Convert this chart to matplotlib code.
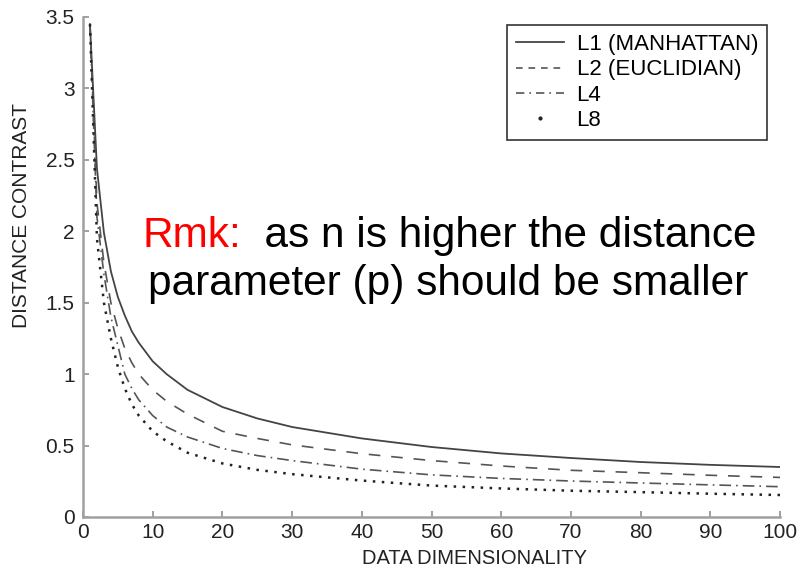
import matplotlib
matplotlib.use("Agg")
import matplotlib.pyplot as plt
from matplotlib.lines import Line2D

plt.rcParams['font.family'] = ['Liberation Sans', 'DejaVu Sans']

# valores
dim = [1, 2, 3, 4, 5, 6, 7, 8, 10, 12, 15, 20, 25, 30, 40, 50, 60, 70, 80, 90, 100]
l1 = [3.45, 2.44, 1.99, 1.72, 1.54, 1.41, 1.30, 1.22, 1.09, 1.00, 0.89, 0.77,
      0.69, 0.63, 0.55, 0.49, 0.445, 0.413, 0.385, 0.365, 0.35]
l2 = [3.45, 2.20, 1.78, 1.50, 1.32, 1.18, 1.08, 1.00, 0.89, 0.81, 0.72, 0.60,
      0.55, 0.505, 0.443, 0.395, 0.357, 0.327, 0.31, 0.292, 0.277]
l4 = [3.45, 2.10, 1.70, 1.40, 1.20, 1.00, 0.90, 0.82, 0.71, 0.63, 0.56, 0.48,
      0.43, 0.395, 0.335, 0.295, 0.27, 0.252, 0.238, 0.225, 0.212]
l8 = [3.45, 1.95, 1.50, 1.25, 1.05, 0.90, 0.79, 0.71, 0.60, 0.53, 0.45, 0.375,
      0.33, 0.30, 0.255, 0.22, 0.20, 0.184, 0.174, 0.163, 0.154]

labels = ["L1 (MANHATTAN)", "L2 (EUCLIDIAN)", "L4", "L8"]
xticks = [0, 10, 20, 30, 40, 50, 60, 70, 80, 90, 100]
yticks = [0, 0.5, 1, 1.5, 2, 2.5, 3, 3.5]
ytick_labels = ["0", "0.5", "1", "1.5", "2", "2.5", "3", "3.5"]

fig = plt.figure(figsize=(8, 5.68), dpi=100)
ax = fig.add_axes([83/800, 1 - 517/568, 697/800, 500/568])

ax.plot(dim, l1, color='#444444', lw=1.3, ls='-')
ax.plot(dim, l2, color='#555555', lw=1.2, dashes=(7, 6.5))
ax.plot(dim, l4, color='#555555', lw=1.2, dashes=(7, 3, 1, 3))
ax.plot(dim, l8, color='#222222', lw=1.8, dashes=(1, 2.6))

ax.set_xlim(0, 100)
ax.set_ylim(0, 3.5)
ax.set_xticks(xticks)
ax.set_yticks(yticks)
ax.set_yticklabels(ytick_labels)

for s in ['top', 'right']:
    ax.spines[s].set_visible(False)
for s in ['left', 'bottom']:
    ax.spines[s].set_color('#a0a0a0')
    ax.spines[s].set_linewidth(1.8)

ax.tick_params(direction='in', length=4, width=1.2, color='#909090',
               labelsize=15, labelcolor='#222222')
ax.tick_params(axis='y', pad=6)
ax.tick_params(axis='x', pad=4)

ax.set_xlabel("DATA DIMENSIONALITY", fontsize=14.5, color='#222222')
ax.set_ylabel("DISTANCE CONTRAST", fontsize=15, color='#222222')
ax.xaxis.set_label_coords(0.562, -0.064)
ax.yaxis.set_label_coords(-0.075, 0.604)

# leyenda (L8 se muestra con un solo punto)
handles = [
    Line2D([], [], color='#444444', lw=1.3, ls='-'),
    Line2D([], [], color='#555555', lw=1.2, dashes=(4, 3.5)),
    Line2D([], [], color='#555555', lw=1.2, dashes=(5, 3, 1, 3)),
    Line2D([], [], color='#222222', ls='none', marker='.', ms=4),
]
leg = ax.legend(handles, labels, loc='upper right', fontsize=16,
                bbox_to_anchor=(767/800, 1 - 25/568), bbox_transform=fig.transFigure,
                borderaxespad=0, frameon=True, fancybox=False, framealpha=1,
                labelspacing=0.2, handlelength=2.2, handletextpad=0.55,
                borderpad=0.4)
leg.get_frame().set_edgecolor('#333333')
leg.get_frame().set_linewidth(1.2)

# nota
t1 = fig.text(142/800, 1 - 247/568, "Rmk:", color='#ff0000', fontsize=30.5,
              va='baseline', ha='left')
ax.annotate("  as n is higher the distance", xy=(1, 0), xycoords=t1,
            va='bottom', ha='left', fontsize=30.5, color='black')
fig.text(148/800, 1 - 295/568, "parameter (p) should be smaller", color='black',
         fontsize=30.5, va='baseline', ha='left')

fig.savefig("out.png", dpi=100)
